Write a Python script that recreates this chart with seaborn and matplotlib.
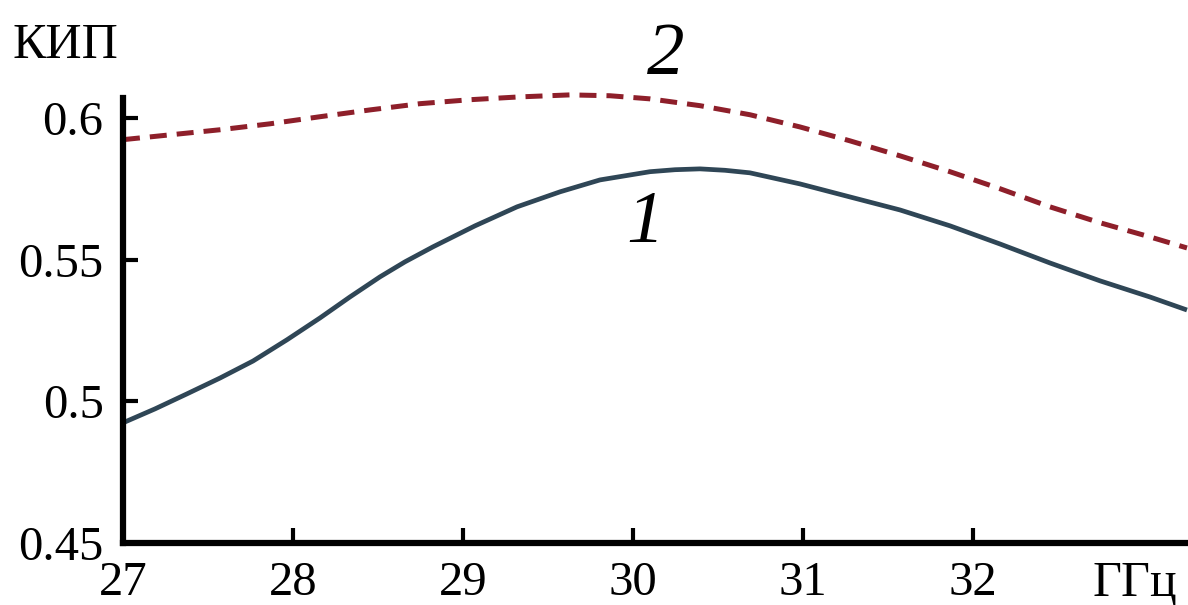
import matplotlib
matplotlib.use("Agg")
import matplotlib.pyplot as plt
from matplotlib.ticker import FuncFormatter, FixedLocator
import pandas as pd
import seaborn as sns

# Frequency, GHz
freq_1 = [27.000, 27.188, 27.376, 27.571, 27.765, 27.965, 28.159, 28.335, 28.512,
          28.659, 28.824, 29.071, 29.318, 29.571, 29.806, 30.100, 30.247, 30.394,
          30.541, 30.688, 30.982, 31.276, 31.571, 31.865, 32.159, 32.453, 32.747,
          33.041, 33.259]
# Aperture efficiency, curve 1
kip_1 = [0.4924, 0.4973, 0.5026, 0.5082, 0.5142, 0.5217, 0.5294, 0.5368, 0.5439,
         0.5492, 0.5545, 0.5619, 0.5686, 0.5739, 0.5781, 0.5810, 0.5817, 0.5820,
         0.5815, 0.5806, 0.5767, 0.5721, 0.5675, 0.5619, 0.5555, 0.5488, 0.5425,
         0.5368, 0.5322]

freq_2 = [27.000, 27.276, 27.571, 27.865, 28.159, 28.453, 28.747, 29.041, 29.335,
          29.629, 29.865, 30.100, 30.394, 30.688, 30.982, 31.276, 31.571, 31.865,
          32.159, 32.453, 32.747, 33.041, 33.259]
# Aperture efficiency, curve 2
kip_2 = [0.5923, 0.5940, 0.5958, 0.5979, 0.6004, 0.6028, 0.6050, 0.6064, 0.6074,
         0.6081, 0.6078, 0.6067, 0.6043, 0.6011, 0.5968, 0.5919, 0.5866, 0.5810,
         0.5750, 0.5686, 0.5630, 0.5580, 0.5541]

x_ticks = [27, 28, 29, 30, 31, 32]
y_ticks = [0.45, 0.50, 0.55, 0.60]

sns.set_theme(style="ticks")
plt.rcParams["font.family"] = ["Liberation Serif", "DejaVu Serif"]
plt.rcParams["text.color"] = "black"

fig = plt.figure(figsize=(11.88, 6.05), dpi=100)
ax = fig.add_axes([0.1035, 0.1025, 0.8965, 0.7355])

df1 = pd.DataFrame({"f": freq_1, "k": kip_1})
df2 = pd.DataFrame({"f": freq_2, "k": kip_2})

sns.lineplot(data=df1, x="f", y="k", ax=ax, color="#2f4656", lw=3.4,
             clip_on=False, solid_capstyle="butt", solid_joinstyle="round")
sns.lineplot(data=df2, x="f", y="k", ax=ax, color="#8e1f2a", lw=3.6,
             clip_on=False, dashes=(3.4, 2.0), dash_joinstyle="round")

ax.set_xlim(27, 33.265)
ax.set_ylim(0.45, 0.607)

for side in ("top", "right"):
    ax.spines[side].set_visible(False)
for side in ("left", "bottom"):
    ax.spines[side].set_linewidth(4.5)
    ax.spines[side].set_color("black")

ax.xaxis.set_major_locator(FixedLocator(x_ticks))
ax.yaxis.set_major_locator(FixedLocator(y_ticks))
ax.yaxis.set_major_formatter(FuncFormatter(lambda v, p: f"{v:g}"))
ax.xaxis.set_major_formatter(FuncFormatter(lambda v, p: f"{v:g}"))
ax.tick_params(axis="both", direction="in", length=11, width=3,
               colors="black", labelsize=35)
ax.tick_params(axis="x", pad=13)
ax.tick_params(axis="y", pad=14)

ax.set_xlabel("")
ax.set_ylabel("")
ax.grid(False)
ax.patch.set_alpha(0)

# Curve labels
ax.text(30.07, 0.5626, "1", fontsize=54, style="italic", color="black",
        ha="center", va="center")
ax.text(30.19, 0.6219, "2", fontsize=54, style="italic", color="black",
        ha="center", va="center", clip_on=False)

# Axis titles
fig.text(13 / 1188, 1 - 58 / 605, "КИП", fontsize=36, color="black",
         ha="left", va="baseline")
fig.text(1135 / 1188, 1 - 596 / 605, "ГГц", fontsize=36, color="black",
         ha="center", va="baseline")

fig.savefig("out.png", dpi=100, facecolor="white")
